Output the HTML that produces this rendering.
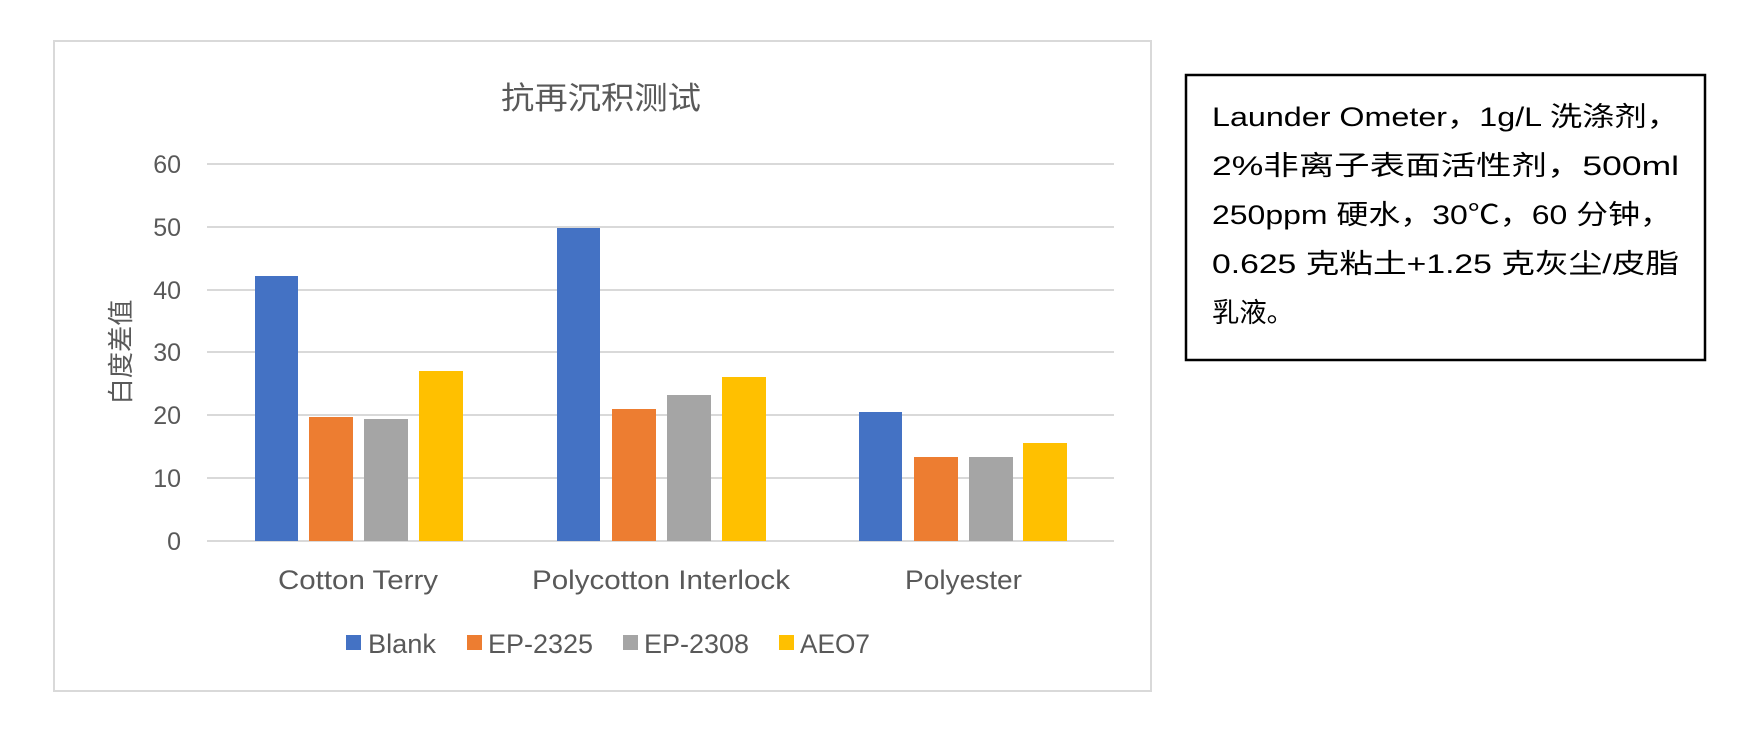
<!DOCTYPE html>
<html><head><meta charset="utf-8"><style>
body{margin:0;background:#fff;}
svg text{font-family:"Liberation Sans","Noto Sans CJK SC",sans-serif;}
</style></head><body>
<svg width="1752" height="728" xmlns="http://www.w3.org/2000/svg">
<rect x="54" y="41" width="1097" height="650" fill="#fff" stroke="#d9d9d9" stroke-width="2"/>
<text x="601" y="109" font-size="31" fill="#595959" text-anchor="middle" textLength="200" lengthAdjust="spacingAndGlyphs">抗再沉积测试</text>
<g stroke="#d9d9d9" stroke-width="2">
<line x1="207" x2="1114" y1="164" y2="164"/><line x1="207" x2="1114" y1="227" y2="227"/>
<line x1="207" x2="1114" y1="290" y2="290"/><line x1="207" x2="1114" y1="352" y2="352"/>
<line x1="207" x2="1114" y1="415" y2="415"/><line x1="207" x2="1114" y1="478" y2="478"/>
<line x1="207" x2="1114" y1="541" y2="541"/></g>
<g font-size="25" fill="#595959" text-anchor="end">
<text x="181" y="173">60</text><text x="181" y="236">50</text><text x="181" y="299">40</text>
<text x="181" y="361">30</text><text x="181" y="424">20</text><text x="181" y="487">10</text><text x="181" y="550">0</text></g>
<text transform="translate(130,352) rotate(-90)" font-size="26" fill="#595959" text-anchor="middle" textLength="105" lengthAdjust="spacingAndGlyphs">白度差值</text>
<g>
<rect x="255" y="276" width="43" height="265" fill="#4472c4"/>
<rect x="309" y="417" width="44" height="124" fill="#ed7d31"/>
<rect x="364" y="419" width="44" height="122" fill="#a5a5a5"/>
<rect x="419" y="371" width="44" height="170" fill="#ffc000"/>
<rect x="557" y="228" width="43" height="313" fill="#4472c4"/>
<rect x="612" y="409" width="44" height="132" fill="#ed7d31"/>
<rect x="667" y="395" width="44" height="146" fill="#a5a5a5"/>
<rect x="722" y="377" width="44" height="164" fill="#ffc000"/>
<rect x="859" y="412" width="43" height="129" fill="#4472c4"/>
<rect x="914" y="457" width="44" height="84" fill="#ed7d31"/>
<rect x="969" y="457" width="44" height="84" fill="#a5a5a5"/>
<rect x="1023" y="443" width="44" height="98" fill="#ffc000"/>
</g>
<g font-size="27" fill="#595959">
<text x="278" y="589" textLength="160" lengthAdjust="spacingAndGlyphs">Cotton Terry</text>
<text x="532" y="589" textLength="258" lengthAdjust="spacingAndGlyphs">Polycotton Interlock</text>
<text x="905" y="589" textLength="117" lengthAdjust="spacingAndGlyphs">Polyester</text></g>
<g font-size="27" fill="#595959">
<rect x="346" y="635" width="15" height="15" fill="#4472c4"/><text x="368" y="653" textLength="68" lengthAdjust="spacingAndGlyphs">Blank</text>
<rect x="467" y="635" width="15" height="15" fill="#ed7d31"/><text x="488" y="653" textLength="105" lengthAdjust="spacingAndGlyphs">EP-2325</text>
<rect x="623" y="635" width="15" height="15" fill="#a5a5a5"/><text x="644" y="653" textLength="105" lengthAdjust="spacingAndGlyphs">EP-2308</text>
<rect x="779" y="635" width="15" height="15" fill="#ffc000"/><text x="800" y="653" textLength="70" lengthAdjust="spacingAndGlyphs">AEO7</text></g>
<rect x="1186" y="75" width="519" height="285" fill="#fff" stroke="#000" stroke-width="2.5"/>
<g font-size="27" fill="#000">
<text x="1212" y="126" textLength="467" lengthAdjust="spacingAndGlyphs">Launder Ometer，1g/L 洗涤剂，</text>
<text x="1212" y="175" textLength="467" lengthAdjust="spacingAndGlyphs">2%非离子表面活性剂，500ml</text>
<text x="1212" y="224" textLength="460" lengthAdjust="spacingAndGlyphs">250ppm 硬水，30℃，60 分钟，</text>
<text x="1212" y="273" textLength="467" lengthAdjust="spacingAndGlyphs">0.625 克粘土+1.25 克灰尘/皮脂</text>
<text x="1212" y="322" textLength="82" lengthAdjust="spacingAndGlyphs">乳液。</text></g>
</svg>
</body></html>
